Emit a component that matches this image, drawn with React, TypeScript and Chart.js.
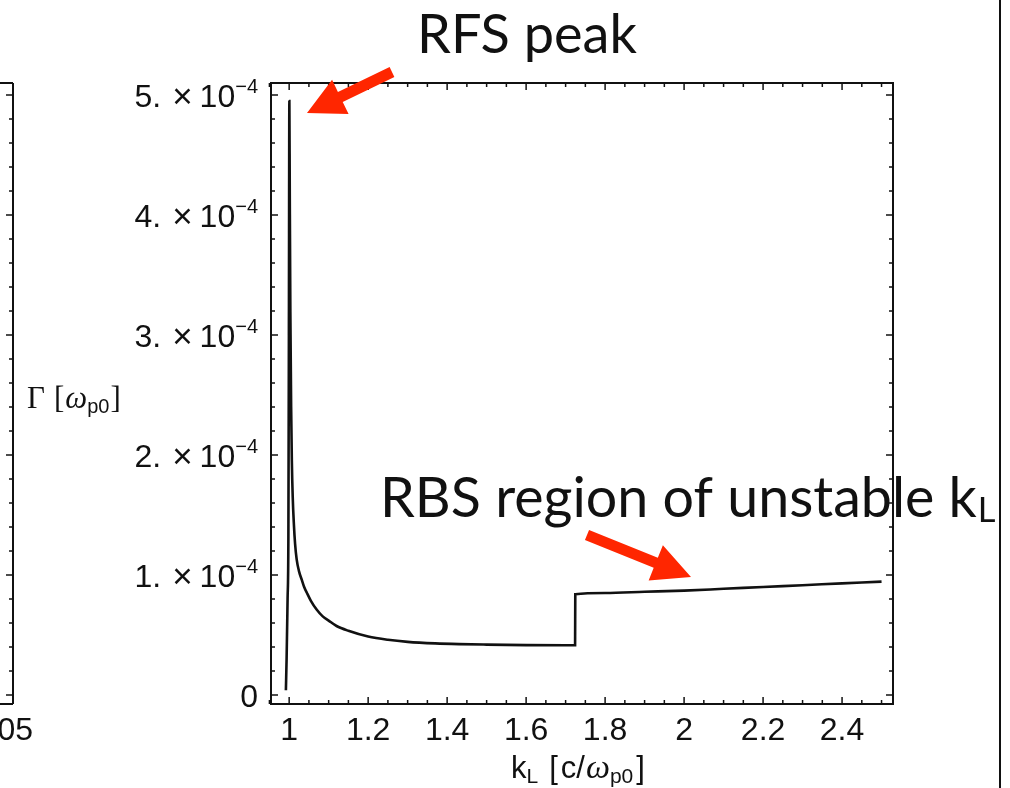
import React, { useEffect, useRef } from "react";
import { Chart, registerables } from "chart.js";

Chart.register(...registerables);

// Growth rate Γ of the instability versus laser wavenumber k_L
const kL = [
  0.9917, 0.9935, 0.996, 0.998, 0.9993, 1.0005, 1.0015, 1.003, 1.005, 1.0068,
  1.009, 1.012, 1.015, 1.019, 1.025, 1.032, 1.038, 1.045, 1.055, 1.07, 1.085,
  1.1, 1.12, 1.15, 1.2, 1.25, 1.3, 1.37, 1.43, 1.5, 1.6, 1.7, 1.724, 1.7245,
  1.8, 1.9, 2.0, 2.1, 2.2, 2.3, 2.4, 2.5,
];
const gamma = [
  0.04e-4, 0.3e-4, 0.8e-4, 1.3e-4, 3.0e-4, 4.95e-4, 4.2e-4, 3.2e-4, 2.4e-4, 1.95e-4,
  1.65e-4, 1.42e-4, 1.26e-4, 1.13e-4, 1.03e-4, 0.96e-4, 0.9e-4, 0.85e-4, 0.785e-4, 0.71e-4, 0.655e-4,
  0.62e-4, 0.575e-4, 0.535e-4, 0.487e-4, 0.46e-4, 0.443e-4, 0.43e-4, 0.424e-4, 0.42e-4, 0.416e-4, 0.414e-4, 0.414e-4, 0.84e-4,
  0.85e-4, 0.86e-4, 0.87e-4, 0.885e-4, 0.9e-4, 0.915e-4, 0.93e-4, 0.945e-4,
];

const xMajorTicks = [1, 1.2, 1.4, 1.6, 1.8, 2, 2.2, 2.4];
const xTickLabels = ["1", "1.2", "1.4", "1.6", "1.8", "2", "2.2", "2.4"];
const yMajorTicks = [0, 1e-4, 2e-4, 3e-4, 4e-4, 5e-4];
const yTickMantissas = ["0", "1.", "2.", "3.", "4.", "5."];
const yTickExponent = "\u22124";

const RED = "#ff2600";
const INK = "#111111";
const SANS = "'Liberation Sans', Arial, sans-serif";
const SERIF = "'Liberation Serif', 'Times New Roman', serif";
const HUMANIST = "Lato, 'Open Sans', sans-serif";

function drawArrow(
  ctx: CanvasRenderingContext2D,
  x1: number, y1: number, x2: number, y2: number,
  shaftW: number, headLen: number, headW: number
) {
  const dx = x2 - x1, dy = y2 - y1;
  const len = Math.hypot(dx, dy);
  const ux = dx / len, uy = dy / len;
  const nx = -uy, ny = ux;
  const bx = x2 - ux * headLen, by = y2 - uy * headLen;
  ctx.beginPath();
  ctx.moveTo(x1 + nx * shaftW / 2, y1 + ny * shaftW / 2);
  ctx.lineTo(bx + nx * shaftW / 2, by + ny * shaftW / 2);
  ctx.lineTo(bx + nx * headW / 2, by + ny * headW / 2);
  ctx.lineTo(x2, y2);
  ctx.lineTo(bx - nx * headW / 2, by - ny * headW / 2);
  ctx.lineTo(bx - nx * shaftW / 2, by - ny * shaftW / 2);
  ctx.lineTo(x1 - nx * shaftW / 2, y1 - ny * shaftW / 2);
  ctx.closePath();
  ctx.fill();
}

function fitFont(ctx: CanvasRenderingContext2D, text: string, family: string, width: number) {
  ctx.font = `100px ${family}`;
  const w = ctx.measureText(text).width;
  return (100 * width) / w;
}

const decorations = {
  id: "decorations",
  afterDraw(chart: any) {
    const ctx: CanvasRenderingContext2D = chart.ctx;
    const { left, right, top, bottom } = chart.chartArea;
    const xs = chart.scales.x;
    const ys = chart.scales.y;
    ctx.save();

    // plot frame
    ctx.strokeStyle = INK;
    ctx.lineWidth = 2;
    ctx.strokeRect(left, top, right - left, bottom - top);

    // inward ticks on all four sides
    ctx.lineWidth = 1.5;
    const seg = (a: number, b: number, c: number, d: number) => {
      ctx.beginPath();
      ctx.moveTo(a, b);
      ctx.lineTo(c, d);
      ctx.stroke();
    };
    for (let j = 19; j <= 50; j++) {
      const px = xs.getPixelForValue(j / 20);
      const len = j % 4 === 0 ? 7 : 4;
      seg(px, bottom, px, bottom - len);
      seg(px, top, px, top + len);
    }
    for (let j = 0; j <= 25; j++) {
      const py = ys.getPixelForValue(j * 0.2e-4);
      const len = j % 5 === 0 ? 7 : 4;
      seg(left, py, left + len, py);
      seg(right, py, right - len, py);
    }

    // y tick labels: m.×10^-4
    ctx.fillStyle = INK;
    ctx.textBaseline = "alphabetic";
    const rightEdge = 258;
    yMajorTicks.forEach((v, i) => {
      const py = ys.getPixelForValue(v);
      const base = py + 11.5;
      ctx.textAlign = "right";
      if (yTickMantissas[i] === "0") {
        ctx.font = `32px ${SANS}`;
        ctx.fillText("0", rightEdge, base);
        return;
      }
      let x = rightEdge;
      ctx.font = `20px ${SANS}`;
      ctx.fillText(yTickExponent, x, base - 14);
      x -= ctx.measureText(yTickExponent).width;
      ctx.font = `32px ${SANS}`;
      ctx.fillText("10", x, base);
      x -= ctx.measureText("10").width + 7;
      ctx.font = `35px ${SANS}`;
      ctx.fillText("\u00d7", x, base + 1);
      x -= ctx.measureText("\u00d7").width + 11;
      ctx.font = `32px ${SANS}`;
      ctx.fillText(yTickMantissas[i], x, base);
    });

    // x tick labels
    ctx.font = `32px ${SANS}`;
    ctx.textAlign = "center";
    xMajorTicks.forEach((v, i) => {
      ctx.fillText(xTickLabels[i], xs.getPixelForValue(v), 740);
    });

    // x axis title: k_L [c/ω_p0]
    ctx.textAlign = "left";
    let tx = 511;
    const piece = (t: string, font: string, dy: number, gap: number) => {
      ctx.font = font;
      ctx.fillText(t, tx, 778 + dy);
      tx += ctx.measureText(t).width + gap;
    };
    piece("k", `31px ${SANS}`, 0, 0);
    piece("L", `21px ${SANS}`, 5, 11);
    piece("[", `31px ${SANS}`, 0, 3);
    piece("c/", `31px ${SANS}`, 0, 1);
    piece("\u03c9", `italic 34px ${SERIF}`, 0, 0);
    piece("p0", `21px ${SANS}`, 5, 3);
    piece("]", `31px ${SANS}`, 0, 0);

    // y axis title: Γ [ω_p0]
    tx = 27;
    const ypiece = (t: string, font: string, dy: number, gap: number) => {
      ctx.font = font;
      ctx.fillText(t, tx, 408 + dy);
      tx += ctx.measureText(t).width + gap;
    };
    ypiece("\u0393", `31px ${SERIF}`, 0, 9);
    ypiece("[", `31px ${SERIF}`, 0, 1);
    ypiece("\u03c9", `italic 31px ${SERIF}`, 0, 0);
    ypiece("p0", `20px ${SANS}`, 5, 1);
    ypiece("]", `31px ${SERIF}`, 0, 0);

    // edge of the neighbouring panel on the left
    ctx.lineWidth = 2;
    seg(13, top, 13, bottom);
    seg(0, top, 13, top);
    seg(0, bottom, 13, bottom);
    ctx.lineWidth = 1.5;
    for (let j = 0; j <= 25; j++) {
      const py = ys.getPixelForValue(j * 0.2e-4);
      const len = j % 5 === 0 ? 7 : 4;
      if (py > top + 2 && py < bottom - 2) seg(13, py, 13 - len, py);
    }
    ctx.font = `32px ${SANS}`;
    ctx.textAlign = "right";
    ctx.fillText("05", 33, 740);

    // slide border on the right
    ctx.lineWidth = 2;
    seg(1000, 0, 1000, 788);

    // annotations
    ctx.textAlign = "left";
    ctx.fillStyle = INK;
    const rfs = "RFS peak";
    ctx.font = `${fitFont(ctx, rfs, HUMANIST, 220)}px ${HUMANIST}`;
    ctx.fillText(rfs, 417, 53);

    const rbs = "RBS region of unstable k";
    const rbsSize = fitFont(ctx, rbs, HUMANIST, 597);
    ctx.font = `${rbsSize}px ${HUMANIST}`;
    ctx.fillText(rbs, 380, 517);
    const rbsW = ctx.measureText(rbs).width;
    ctx.font = `${rbsSize * 0.62}px ${HUMANIST}`;
    ctx.fillText("L", 380 + rbsW + 1, 522);

    ctx.fillStyle = RED;
    drawArrow(ctx, 392, 72, 307, 113, 11, 37, 38);
    drawArrow(ctx, 587, 535, 691, 577, 11, 38, 38);

    ctx.restore();
  },
};

export default function App() {
  const canvasRef = useRef<HTMLCanvasElement | null>(null);

  useEffect(() => {
    const canvas = canvasRef.current;
    if (!canvas) return;
    const chart = new Chart(canvas, {
      type: "line",
      data: {
        datasets: [
          {
            data: kL.map((k, i) => ({ x: k, y: gamma[i] })),
            borderColor: INK,
            borderWidth: 2.6,
            pointRadius: 0,
            fill: false,
            cubicInterpolationMode: "monotone",
          },
        ],
      },
      options: {
        responsive: false,
        devicePixelRatio: 1,
        animation: false,
        layout: { padding: { left: 271, right: 117, top: 83, bottom: 84 } },
        scales: {
          x: { type: "linear", display: false, min: 0.954, max: 2.529 },
          y: { type: "linear", display: false, min: -0.075e-4, max: 5.1e-4 },
        },
        plugins: {
          legend: { display: false },
          tooltip: { enabled: false },
        },
      },
      plugins: [decorations],
    });
    return () => chart.destroy();
  }, []);

  return (
    <div style={{ position: "absolute", left: 0, top: 0, width: 1010, height: 788, background: "#fff" }}>
      <canvas ref={canvasRef} width={1010} height={788} style={{ display: "block" }} />
    </div>
  );
}
